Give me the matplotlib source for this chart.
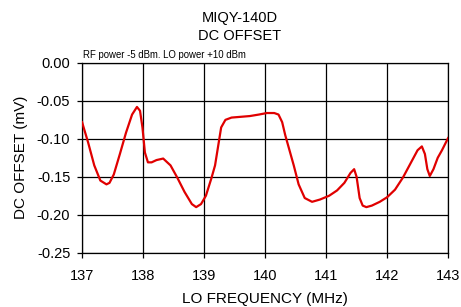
import numpy as np
import matplotlib.pyplot as plt

plt.rcParams['font.family'] = ['Liberation Sans', 'DejaVu Sans']

# LO frequency (MHz) and DC offset (mV)
freq = [137.00, 137.10, 137.20, 137.30, 137.40, 137.45, 137.52, 137.62, 137.72,
        137.82, 137.90, 137.95, 137.99, 138.03, 138.08, 138.14, 138.22, 138.33,
        138.45, 138.56, 138.68, 138.80, 138.87, 138.95, 139.03, 139.12, 139.18,
        139.23, 139.28, 139.35, 139.45, 139.60, 139.75, 139.90, 140.03, 140.15,
        140.22, 140.28, 140.33, 140.40, 140.47, 140.55, 140.65, 140.77, 140.90,
        141.05, 141.18, 141.30, 141.40, 141.46, 141.50, 141.55, 141.60, 141.66,
        141.75, 141.88, 142.00, 142.13, 142.26, 142.40, 142.50, 142.57, 142.62,
        142.66, 142.70, 142.76, 142.83, 142.90, 143.00]
dc_offset = [-0.078, -0.105, -0.135, -0.155, -0.160, -0.158, -0.147, -0.120, -0.092,
             -0.068, -0.058, -0.063, -0.085, -0.118, -0.131, -0.131, -0.128, -0.126,
             -0.135, -0.151, -0.170, -0.186, -0.190, -0.186, -0.175, -0.152, -0.135,
             -0.110, -0.085, -0.075, -0.072, -0.071, -0.070, -0.068, -0.066, -0.066,
             -0.068, -0.078, -0.095, -0.115, -0.135, -0.160, -0.178, -0.183, -0.180,
             -0.175, -0.168, -0.158, -0.145, -0.140, -0.150, -0.178, -0.188, -0.190,
             -0.188, -0.183, -0.177, -0.167, -0.151, -0.130, -0.115, -0.110, -0.120,
             -0.140, -0.149, -0.140, -0.125, -0.115, -0.099]

x_ticks = [137, 138, 139, 140, 141, 142, 143]
y_ticks = [0.00, -0.05, -0.10, -0.15, -0.20, -0.25]

fig = plt.figure(figsize=(4.61, 3.07), dpi=100)
ax = fig.add_axes([0.178, 0.177, 0.794, 0.618])

ax.plot(freq, dc_offset, color='#e00000', linewidth=1.6, zorder=3)

ax.set_xlim(137, 143)
ax.set_ylim(-0.25, 0.0)
ax.set_xticks(x_ticks)
ax.set_yticks(y_ticks)
ax.set_yticklabels([f"{v:.2f}" for v in y_ticks])
ax.grid(True, color='black', linewidth=0.9)
for s in ax.spines.values():
    s.set_linewidth(0.9)
ax.tick_params(axis='both', direction='out', length=3.5, width=0.9, labelsize=10.5)
ax.tick_params(axis='x', pad=8)
ax.tick_params(axis='y', pad=5)

ax.set_xlabel("LO FREQUENCY (MHz)", fontsize=11, labelpad=7)
ax.set_ylabel("DC OFFSET (mV)", fontsize=11, labelpad=6)

fig.text(0.52, 0.94, "MIQY-140D", ha='center', va='center', fontsize=10.5)
fig.text(0.52, 0.884, "DC OFFSET", ha='center', va='center', fontsize=10.5)
ax.text(0.003, 1.015, "RF power -5 dBm. LO power +10 dBm", transform=ax.transAxes,
        ha='left', va='bottom', fontsize=6.9)

fig.savefig("out.png", dpi=100)
